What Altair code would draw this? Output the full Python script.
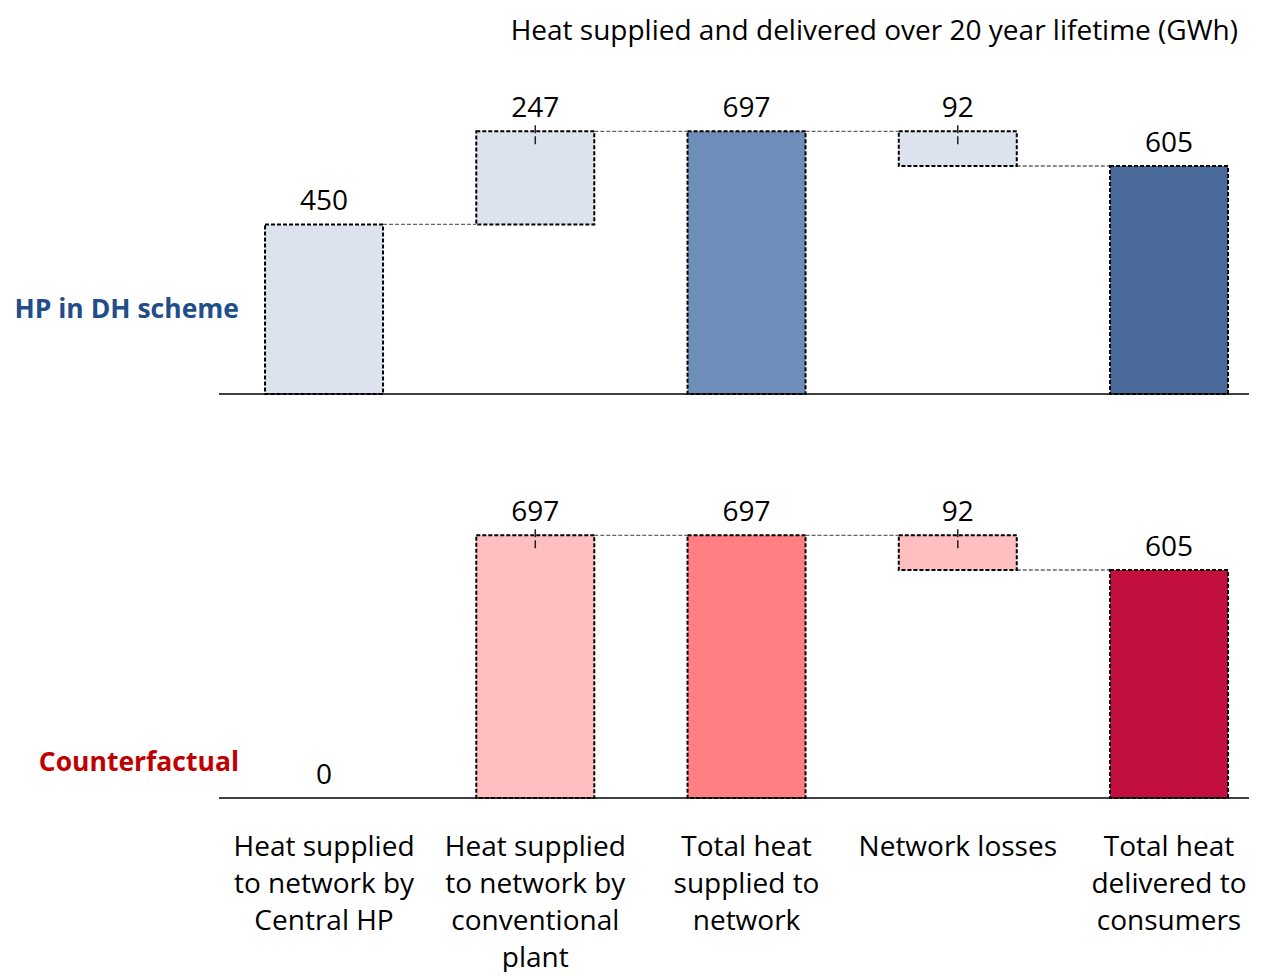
import altair as alt
import pandas as pd

# ---------------- data ----------------
categories = [
    "Heat supplied|to network by|Central HP",
    "Heat supplied|to network by|conventional|plant",
    "Total heat|supplied to|network",
    "Network losses",
    "Total heat|delivered to|consumers",
]

hp_start = [0, 450, 0, 605, 0]
hp_end = [450, 697, 697, 697, 605]
hp_value = [450, 247, 697, 92, 605]
hp_colors = ["#dde3ee", "#dde3ee", "#6e8db8", "#dde3ee", "#4a6a9a"]
hp_links = [450, 697, 697, 605]

cf_start = [0, 0, 0, 605, 0]
cf_end = [0, 697, 697, 697, 605]
cf_value = [0, 697, 697, 92, 605]
cf_colors = ["#ffbfc1", "#ffbfc1", "#ff7f82", "#ffbfc1", "#c30f3e"]
cf_links = [0, 697, 697, 605]

marker = [False, True, False, True, False]

panel_names = ["HP in DH scheme", "Counterfactual"]
panel_name_colors = ["#1f4e89", "#c00000"]
title_text = "Heat supplied and delivered over 20 year lifetime (GWh)"

FONT = "Open Sans"
W, H = 1030, 309
YMAX = 820

xscale = alt.Scale(domain=categories, paddingInner=0.4414, paddingOuter=0.1586, align=0.687)
yscale = alt.Scale(domain=[0, YMAX], nice=False, zero=True)

bottom_axis = alt.Axis(
    labelExpr="split(datum.value, '|')",
    labelFont=FONT, labelFontSize=28, labelColor="black",
    labelLineHeight=37, labelPadding=35, ticks=False, tickSize=0,
    domain=False, labelAngle=0, labelBaseline="top", labelAlign="center",
    labelLimit=400, labelOverlap=False, grid=False, title=None,
)


def panel(start, end, value, colors, links, name, name_color, name_y, show_axis, with_title):
    axis = bottom_axis if show_axis else None
    X = alt.X("cat:N", scale=xscale, axis=axis, title=None)
    df = pd.DataFrame({"cat": categories, "start": start, "end": end,
                       "value": value, "color": colors, "marker": marker})
    ldf = pd.DataFrame({"from": categories[:-1], "to": categories[1:], "level": links})

    links_l = alt.Chart(ldf).transform_filter("datum.level > 0").mark_rule(
        color="#666666", strokeDash=[4, 2], strokeWidth=1.3
    ).encode(
        x=alt.X("from:N", scale=xscale, axis=axis, title=None, bandPosition=1),
        x2=alt.X2(field="to", bandPosition=0),
        y=alt.Y("level:Q", scale=yscale, axis=None),
    )

    bars = alt.Chart(df).transform_filter("datum.start != datum.end").mark_bar(
        stroke="black", strokeDash=[4, 2], strokeWidth=2
    ).encode(
        x=X,
        y=alt.Y("start:Q", scale=yscale, axis=None),
        y2="end:Q",
        color=alt.Color("color:N", scale=None),
    )

    ticks = alt.Chart(df).transform_filter("datum.marker").mark_rule(
        color="#222222", strokeDash=[8, 3], strokeWidth=1.5, yOffset=-6, y2Offset=15
    ).encode(
        x=X,
        y=alt.Y("end:Q", scale=yscale, axis=None),
        y2="end:Q",
    )

    labels = alt.Chart(df).mark_text(
        dy=-22, fontSize=28, font=FONT, color="black", baseline="middle"
    ).encode(
        x=X,
        y=alt.Y("end:Q", scale=yscale, axis=None),
        text="value:Q",
    )

    base = alt.Chart(pd.DataFrame({"z": [0]})).mark_rule(color="black", strokeWidth=1.5).encode(
        y=alt.Y("z:Q", scale=yscale, axis=None)
    )

    name_l = alt.Chart(pd.DataFrame({"t": [name]})).mark_text(
        align="right", baseline="middle", fontSize=26.5, fontWeight="bold",
        font=FONT, color=name_color
    ).encode(x=alt.value(20), y=alt.value(name_y), text="t:N")

    layers = [links_l, bars, ticks, labels, base, name_l]
    if with_title:
        title_l = alt.Chart(pd.DataFrame({"t": [title_text]})).mark_text(
            align="right", baseline="middle", fontSize=28, font=FONT, color="black"
        ).encode(x=alt.value(1019), y=alt.value(-53), text="t:N")
        layers.append(title_l)

    return alt.layer(*layers).properties(width=W, height=H)


top = panel(hp_start, hp_end, hp_value, hp_colors, hp_links,
            panel_names[0], panel_name_colors[0], 225, False, True)
bottom = panel(cf_start, cf_end, cf_value, cf_colors, cf_links,
               panel_names[1], panel_name_colors[1], 274, True, False)

chart = alt.vconcat(top, bottom, spacing=94).properties(
    padding={"left": 6, "top": 10, "right": 2, "bottom": 0}
).configure(font=FONT).configure_view(stroke=None)

chart.save("out.html", embed_options={"renderer": "svg", "actions": False})
